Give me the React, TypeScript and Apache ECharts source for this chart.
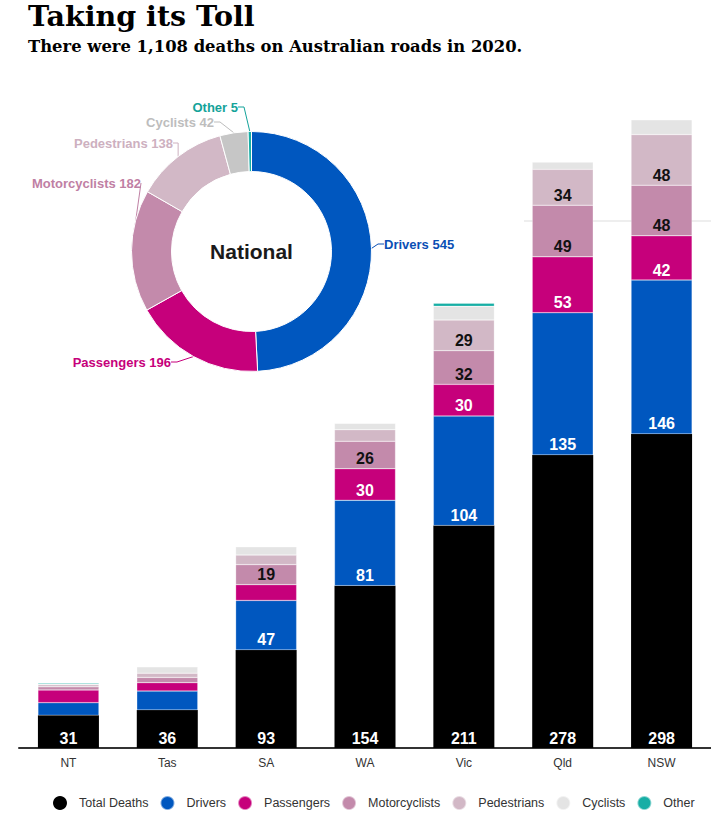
import React, { useEffect, useRef } from 'react';
import * as echarts from 'echarts';

const categories = ['NT', 'Tas', 'SA', 'WA', 'Vic', 'Qld', 'NSW'];
const totalDeaths = [31, 36, 93, 154, 211, 278, 298];
const drivers = [12, 18, 47, 81, 104, 135, 146];
const passengers = [12, 8, 15, 30, 30, 53, 42];
const motorcyclists = [3, 5, 19, 26, 32, 49, 48];
const pedestrians = [2, 4, 9, 11, 29, 34, 48];
const cyclists = [1, 6, 8, 6, 13, 7, 14];
const other = [1, 0, 0, 0, 3, 0, 0];

const seriesNames = ['Total Deaths', 'Drivers', 'Passengers', 'Motorcyclists', 'Pedestrians', 'Cyclists', 'Other'];
const seriesData = [totalDeaths, drivers, passengers, motorcyclists, pedestrians, cyclists, other];

const nationalNames = ['Drivers', 'Passengers', 'Motorcyclists', 'Pedestrians', 'Cyclists', 'Other'];
const nationalValues = [545, 196, 182, 138, 42, 5];

const titleText = 'Taking its Toll';
const subtitleText = 'There were 1,108 deaths on Australian roads in 2020.';

const barColors = ['#000000', '#0057bf', '#c6007b', '#c38aab', '#d2b8c6', '#e4e4e4', '#17aea5'];
const barLabelColors = ['#ffffff', '#ffffff', '#ffffff', '#111111', '#111111', '#111111', '#111111'];
const pieColors = ['#0057bf', '#c6007b', '#c38aab', '#d2b8c6', '#c6c6c6', '#17aea5'];
const pieLabelColors = ['#0a4fb5', '#c6007b', '#bf80a4', '#cdb0bf', '#bdbdbd', '#14a39a'];

// label anchor positions for the donut's callouts (layout only)
const pieLabelPos = [
  { x: 384, y: 244, align: 'left' },
  { x: 171, y: 362, align: 'right' },
  { x: 141, y: 183, align: 'right' },
  { x: 173, y: 143, align: 'right' },
  { x: 214, y: 122, align: 'right' },
  { x: 238, y: 107, align: 'right' },
];

const SANS = 'Arial, "Liberation Sans", sans-serif';
const SERIF = '"DejaVu Serif", Georgia, serif';

export default function App() {
  const ref = useRef<HTMLDivElement>(null);

  useEffect(() => {
    if (!ref.current) return;
    const chart = echarts.init(ref.current, undefined, { renderer: 'svg' });

    const barSeries = seriesNames.map((name, i) => ({
      name,
      type: 'bar',
      stack: 'total',
      barWidth: 61,
      data: seriesData[i],
      z: 3,
      itemStyle: {
        color: barColors[i],
        borderColor: 'rgba(255,255,255,0.5)',
        borderWidth: i === 0 ? 0 : 0.5,
      },
      label: {
        show: true,
        position: 'insideBottom',
        distance: 2,
        color: barLabelColors[i],
        fontFamily: SANS,
        fontWeight: 'bold',
        fontSize: 16,
        formatter: (p: any) => (p.value >= 19 ? String(p.value) : ''),
      },
    }));

    const pieSeries = {
      name: 'National',
      type: 'pie',
      center: [251.5, 251.5],
      radius: [80, 120],
      startAngle: 90,
      clockwise: true,
      avoidLabelOverlap: false,
      z: 5,
      itemStyle: { borderColor: '#ffffff', borderWidth: 1 },
      label: {
        show: true,
        formatter: '{b} {c}',
        fontFamily: SANS,
        fontWeight: 'bold',
        fontSize: 13,
      },
      labelLine: { show: true, length: 6, length2: 6, lineStyle: { width: 1 } },
      labelLayout: (params: any) => {
        const p = pieLabelPos[params.dataIndex];
        return { x: p.x, y: p.y, align: p.align, verticalAlign: 'middle' };
      },
      emphasis: { disabled: true },
      data: nationalNames.map((n, i) => ({
        name: n,
        value: nationalValues[i],
        itemStyle: { color: pieColors[i] },
        label: { color: pieLabelColors[i] },
        labelLine: { lineStyle: { color: pieLabelColors[i] } },
      })),
    };

    chart.setOption({
      animation: false,
      backgroundColor: '#ffffff',
      grid: { left: 19, right: -7, top: 115.6, bottom: 78, containLabel: false },
      legend: {
        data: seriesNames,
        left: 48,
        top: 790,
        width: 680,
        icon: 'circle',
        itemWidth: 14,
        itemHeight: 14,
        itemGap: 11,
        textStyle: { fontFamily: SANS, fontSize: 12.5, color: '#333333', padding: [0, 0, 0, 7] },
      },
      xAxis: {
        type: 'category',
        data: categories,
        axisLine: { lineStyle: { color: '#333333', width: 2 } },
        axisTick: { show: false },
        axisLabel: { fontFamily: SANS, fontSize: 12, color: '#333333', margin: 9 },
      },
      yAxis: {
        type: 'value',
        min: 0,
        max: 600,
        show: false,
        splitLine: { show: false },
      },
      series: [...barSeries, pieSeries],
    });

    const yGrid = chart.convertToPixel({ yAxisIndex: 0 }, 500) as number;

    chart.setOption({
      graphic: [
        {
          type: 'line',
          z: 0,
          shape: { x1: 524, y1: yGrid, x2: 711, y2: yGrid },
          style: { stroke: '#dddddd', lineWidth: 1 },
        },
        {
          type: 'text',
          x: 28,
          y: 16,
          style: {
            text: titleText,
            font: `bold 28.5px ${SERIF}`,
            fill: '#000000',
            verticalAlign: 'middle',
          },
        },
        {
          type: 'text',
          x: 28,
          y: 46,
          style: {
            text: subtitleText,
            font: `bold 16.4px ${SERIF}`,
            fill: '#000000',
            verticalAlign: 'middle',
          },
        },
        {
          type: 'text',
          x: 251.5,
          y: 251,
          z: 10,
          style: {
            text: 'National',
            font: `bold 21px ${SANS}`,
            fill: '#1a1a1a',
            align: 'center',
            verticalAlign: 'middle',
          },
        },
      ],
    });

    return () => chart.dispose();
  }, []);

  return (
    <div
      ref={ref}
      style={{ position: 'fixed', left: 0, top: 0, width: 711, height: 826, background: '#fff' }}
    />
  );
}
